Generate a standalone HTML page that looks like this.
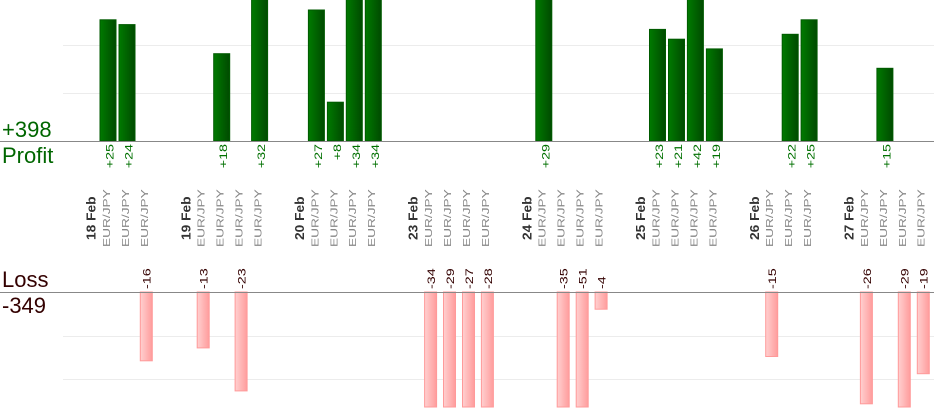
<!DOCTYPE html>
<html><head><meta charset="utf-8"><style>
html,body{margin:0;padding:0;background:#fff;}
svg{display:block;font-family:"Liberation Sans",sans-serif;}
.p{fill:#007000;font-size:11px}
.l{fill:#330000;font-size:11px}
.e{fill:#888;font-size:10px}
.d{fill:#333;font-size:12.5px;font-weight:bold}
</style></head><body>
<svg width="934" height="420" viewBox="0 0 934 420" xmlns="http://www.w3.org/2000/svg">
<defs>
<linearGradient id="g" x1="0" x2="1" y1="0" y2="0"><stop offset="0" stop-color="#007a00"/><stop offset="1" stop-color="#004a00"/></linearGradient>
<linearGradient id="r" x1="0" x2="1" y1="0" y2="0"><stop offset="0" stop-color="#ffd0d0"/><stop offset="1" stop-color="#ff9c9c"/></linearGradient>
</defs>
<g stroke="#ececec" stroke-width="1">
<line x1="63" x2="934" y1="45.5" y2="45.5"/><line x1="63" x2="934" y1="93.5" y2="93.5"/>
<line x1="63" x2="934" y1="336.5" y2="336.5"/><line x1="63" x2="934" y1="379.5" y2="379.5"/>
</g>
<g fill="url(#g)" stroke="#005a00" stroke-width="1">
<rect x="100" y="19.8" width="16" height="121.2"/>
<rect x="119" y="24.6" width="16" height="116.4"/>
<rect x="213.7" y="53.7" width="16" height="87.3"/>
<rect x="251.6" y="-2" width="16" height="143"/>
<rect x="308.4" y="10" width="16" height="131"/>
<rect x="327.4" y="102.2" width="16" height="38.8"/>
<rect x="346.3" y="-2" width="16" height="143"/>
<rect x="365.3" y="-2" width="16" height="143"/>
<rect x="535.8" y="-2" width="16" height="143"/>
<rect x="649.5" y="29.4" width="16" height="111.6"/>
<rect x="668.5" y="39.2" width="16" height="101.8"/>
<rect x="687.4" y="-2" width="16" height="143"/>
<rect x="706.4" y="48.9" width="16" height="92.1"/>
<rect x="782.2" y="34.3" width="16" height="106.7"/>
<rect x="801.1" y="19.8" width="16" height="121.2"/>
<rect x="876.9" y="68.3" width="16" height="72.7"/>
</g>
<g fill="url(#r)" stroke="#ff9a9a" stroke-width="1">
<rect x="140.3" y="292" width="12" height="68.8"/>
<rect x="197.2" y="292" width="12" height="55.9"/>
<rect x="235.1" y="292" width="12" height="98.9"/>
<rect x="424.6" y="292" width="12" height="115"/>
<rect x="443.5" y="292" width="12" height="115"/>
<rect x="462.5" y="292" width="12" height="115"/>
<rect x="481.4" y="292" width="12" height="115"/>
<rect x="557.2" y="292" width="12" height="115"/>
<rect x="576.2" y="292" width="12" height="115"/>
<rect x="595.1" y="292" width="12" height="17.2"/>
<rect x="765.7" y="292" width="12" height="64.5"/>
<rect x="860.4" y="292" width="12" height="111.8"/>
<rect x="898.3" y="292" width="12" height="115"/>
<rect x="917.3" y="292" width="12" height="81.7"/>
</g>
<line x1="0" x2="934" y1="141.5" y2="141.5" stroke="#888"/>
<line x1="0" x2="934" y1="292.5" y2="292.5" stroke="#888"/>
<text x="2" y="137" font-size="22" fill="#006600">+398</text>
<text x="2" y="163" font-size="22" fill="#006600">Profit</text>
<text x="2" y="287" font-size="22" fill="#330000">Loss</text>
<text x="2" y="313" font-size="22" fill="#330000">-349</text>
<g class="p" text-anchor="end">
<text transform="translate(113.5,144) rotate(-90) scale(1.3,1)">+25</text>
<text transform="translate(132.4,144) rotate(-90) scale(1.3,1)">+24</text>
<text transform="translate(227.2,144) rotate(-90) scale(1.3,1)">+18</text>
<text transform="translate(265,144) rotate(-90) scale(1.3,1)">+32</text>
<text transform="translate(321.9,144) rotate(-90) scale(1.3,1)">+27</text>
<text transform="translate(340.9,144) rotate(-90) scale(1.3,1)">+8</text>
<text transform="translate(359.8,144) rotate(-90) scale(1.3,1)">+34</text>
<text transform="translate(378.8,144) rotate(-90) scale(1.3,1)">+34</text>
<text transform="translate(549.3,144) rotate(-90) scale(1.3,1)">+29</text>
<text transform="translate(663,144) rotate(-90) scale(1.3,1)">+23</text>
<text transform="translate(682,144) rotate(-90) scale(1.3,1)">+21</text>
<text transform="translate(700.9,144) rotate(-90) scale(1.3,1)">+42</text>
<text transform="translate(719.9,144) rotate(-90) scale(1.3,1)">+19</text>
<text transform="translate(795.7,144) rotate(-90) scale(1.3,1)">+22</text>
<text transform="translate(814.6,144) rotate(-90) scale(1.3,1)">+25</text>
<text transform="translate(890.4,144) rotate(-90) scale(1.3,1)">+15</text>
</g>
<g class="l">
<text transform="translate(150.7,289) rotate(-90) scale(1.3,1)">-16</text>
<text transform="translate(207.5,289) rotate(-90) scale(1.3,1)">-13</text>
<text transform="translate(245.4,289) rotate(-90) scale(1.3,1)">-23</text>
<text transform="translate(434.9,289) rotate(-90) scale(1.3,1)">-34</text>
<text transform="translate(453.9,289) rotate(-90) scale(1.3,1)">-29</text>
<text transform="translate(472.8,289) rotate(-90) scale(1.3,1)">-27</text>
<text transform="translate(491.8,289) rotate(-90) scale(1.3,1)">-28</text>
<text transform="translate(567.6,289) rotate(-90) scale(1.3,1)">-35</text>
<text transform="translate(586.5,289) rotate(-90) scale(1.3,1)">-51</text>
<text transform="translate(605.5,289) rotate(-90) scale(1.3,1)">-4</text>
<text transform="translate(776,289) rotate(-90) scale(1.3,1)">-15</text>
<text transform="translate(870.8,289) rotate(-90) scale(1.3,1)">-26</text>
<text transform="translate(908.7,289) rotate(-90) scale(1.3,1)">-29</text>
<text transform="translate(927.6,289) rotate(-90) scale(1.3,1)">-19</text>
</g>
<g class="d">
<text transform="translate(95.5,240) rotate(-90) scale(1.1,1)">18 Feb</text>
<text transform="translate(190.3,240) rotate(-90) scale(1.1,1)">19 Feb</text>
<text transform="translate(304,240) rotate(-90) scale(1.1,1)">20 Feb</text>
<text transform="translate(417.7,240) rotate(-90) scale(1.1,1)">23 Feb</text>
<text transform="translate(531.4,240) rotate(-90) scale(1.1,1)">24 Feb</text>
<text transform="translate(645.1,240) rotate(-90) scale(1.1,1)">25 Feb</text>
<text transform="translate(758.8,240) rotate(-90) scale(1.1,1)">26 Feb</text>
<text transform="translate(853.5,240) rotate(-90) scale(1.1,1)">27 Feb</text>
</g>
<g class="e">
<text transform="translate(109.9,247) rotate(-90) scale(1.37,1)">EUR/JPY</text>
<text transform="translate(128.8,247) rotate(-90) scale(1.37,1)">EUR/JPY</text>
<text transform="translate(147.8,247) rotate(-90) scale(1.37,1)">EUR/JPY</text>
<text transform="translate(204.6,247) rotate(-90) scale(1.37,1)">EUR/JPY</text>
<text transform="translate(223.6,247) rotate(-90) scale(1.37,1)">EUR/JPY</text>
<text transform="translate(242.5,247) rotate(-90) scale(1.37,1)">EUR/JPY</text>
<text transform="translate(261.5,247) rotate(-90) scale(1.37,1)">EUR/JPY</text>
<text transform="translate(318.3,247) rotate(-90) scale(1.37,1)">EUR/JPY</text>
<text transform="translate(337.3,247) rotate(-90) scale(1.37,1)">EUR/JPY</text>
<text transform="translate(356.2,247) rotate(-90) scale(1.37,1)">EUR/JPY</text>
<text transform="translate(375.2,247) rotate(-90) scale(1.37,1)">EUR/JPY</text>
<text transform="translate(432,247) rotate(-90) scale(1.37,1)">EUR/JPY</text>
<text transform="translate(451,247) rotate(-90) scale(1.37,1)">EUR/JPY</text>
<text transform="translate(469.9,247) rotate(-90) scale(1.37,1)">EUR/JPY</text>
<text transform="translate(488.9,247) rotate(-90) scale(1.37,1)">EUR/JPY</text>
<text transform="translate(545.7,247) rotate(-90) scale(1.37,1)">EUR/JPY</text>
<text transform="translate(564.7,247) rotate(-90) scale(1.37,1)">EUR/JPY</text>
<text transform="translate(583.6,247) rotate(-90) scale(1.37,1)">EUR/JPY</text>
<text transform="translate(602.6,247) rotate(-90) scale(1.37,1)">EUR/JPY</text>
<text transform="translate(659.4,247) rotate(-90) scale(1.37,1)">EUR/JPY</text>
<text transform="translate(678.4,247) rotate(-90) scale(1.37,1)">EUR/JPY</text>
<text transform="translate(697.3,247) rotate(-90) scale(1.37,1)">EUR/JPY</text>
<text transform="translate(716.3,247) rotate(-90) scale(1.37,1)">EUR/JPY</text>
<text transform="translate(773.1,247) rotate(-90) scale(1.37,1)">EUR/JPY</text>
<text transform="translate(792.1,247) rotate(-90) scale(1.37,1)">EUR/JPY</text>
<text transform="translate(811,247) rotate(-90) scale(1.37,1)">EUR/JPY</text>
<text transform="translate(867.9,247) rotate(-90) scale(1.37,1)">EUR/JPY</text>
<text transform="translate(886.8,247) rotate(-90) scale(1.37,1)">EUR/JPY</text>
<text transform="translate(905.8,247) rotate(-90) scale(1.37,1)">EUR/JPY</text>
<text transform="translate(924.7,247) rotate(-90) scale(1.37,1)">EUR/JPY</text>
</g>
</svg>
</body></html>
